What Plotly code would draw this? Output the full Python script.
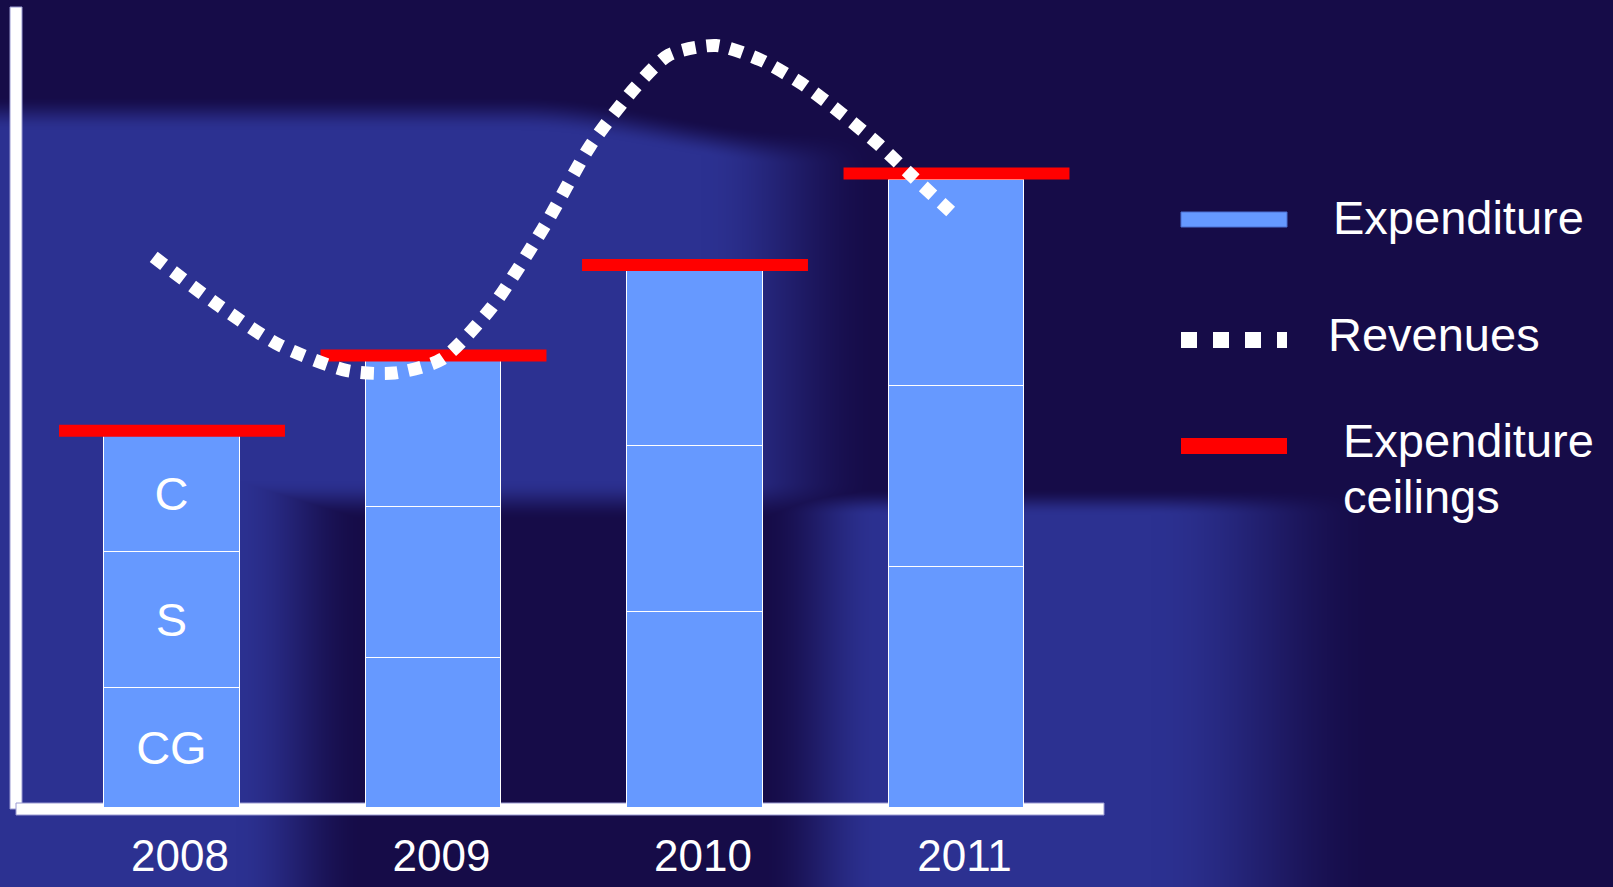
import base64, struct, zlib
import numpy as np
import plotly.graph_objects as go

# ---------------- data ----------------
years = [2008, 2009, 2010, 2011]
year_labels = ["2008", "2009", "2010", "2011"]
cg_values = [15.0, 18.7, 24.5, 30.1]
s_values = [17.0, 18.9, 20.7, 22.6]
c_values = [14.4, 18.2, 21.9, 25.7]
ceilings = [47.1, 56.5, 67.8, 79.2]
revenue_t = [2007.93, 2008.18, 2008.41, 2008.67, 2008.85, 2009.03, 2009.22, 2009.42, 2009.60,
             2009.77, 2009.90, 2010.08, 2010.25, 2010.41, 2010.56, 2010.70, 2010.83, 2010.99]
revenue_v = [68.8, 62.7, 57.8, 54.6, 54.3, 56.0, 62.4, 72.4, 82.7,
             89.9, 94.0, 95.2, 93.4, 90.4, 86.7, 82.9, 78.9, 74.1]
segment_labels = [["CG", "", "", ""], ["S", "", "", ""], ["C", "", "", ""]]

W, H = 1613, 887
FONT = "Liberation Sans, Arial, sans-serif"
BAR_COLOR = "#6699ff"


def px_x(p):
    return p / W


def px_y(p):
    return 1 - p / H


# ---------------- background image ----------------
def sstep(v, a, b):
    t = np.clip((v - a) / (b - a), 0, 1)
    return t * t * (3 - 2 * t)


yy = np.arange(H, dtype=float)[:, None]
xx = np.arange(W, dtype=float)[None, :]
top_edge = 95 + 35 * sstep(xx, 520, 800)
m_up = sstep(yy, top_edge, top_edge + 35) * (1 - sstep(yy, 480, 520)) * (1 - sstep(xx, 700, 880))
m_left = sstep(yy, 95, 130) * (1 - sstep(xx, 235, 365))
m_rl = sstep(yy, 488, 515) * sstep(xx, 760, 880) * (1 - sstep(xx, 1150, 1380))
mask = np.maximum(np.maximum(m_up, m_left), m_rl)
dark = np.array([22, 12, 72], dtype=float)
light = np.array([44, 49, 145], dtype=float)
img = (dark[None, None, :] + mask[:, :, None] * (light - dark)[None, None, :]).astype(np.uint8)


def to_png(arr):
    h, w, _ = arr.shape
    raw = b"".join(b"\x00" + arr[i].tobytes() for i in range(h))

    def chunk(t, d):
        return struct.pack(">I", len(d)) + t + d + struct.pack(">I", zlib.crc32(t + d) & 0xffffffff)

    return (b"\x89PNG\r\n\x1a\n" + chunk(b"IHDR", struct.pack(">IIBBBBB", w, h, 8, 2, 0, 0, 0))
            + chunk(b"IDAT", zlib.compress(raw, 9)) + chunk(b"IEND", b""))


bg_src = "data:image/png;base64," + base64.b64encode(to_png(img)).decode()

# ---------------- figure ----------------
fig = go.Figure()

for name, vals, labels in [("CG", cg_values, segment_labels[0]),
                           ("S", s_values, segment_labels[1]),
                           ("C", c_values, segment_labels[2])]:
    fig.add_trace(go.Bar(
        x=years, y=vals, name=name, width=0.52,
        marker=dict(color=BAR_COLOR, line=dict(color="white", width=1.2)),
        text=labels, textposition="inside", insidetextanchor="middle",
        textfont=dict(color="white", size=47, family=FONT),
        hoverinfo="skip", showlegend=False))

half = 0.432
cx, cy = [], []
for yr, c in zip(years, ceilings):
    cx += [yr - half, yr + half, None]
    cy += [c, c, None]
fig.add_trace(go.Scatter(x=cx, y=cy, mode="lines", line=dict(color="#ff0000", width=12),
                         hoverinfo="skip", showlegend=False))

fig.add_trace(go.Scatter(x=revenue_t, y=revenue_v, mode="lines",
                         line=dict(color="white", width=13, dash="13px,11px", shape="spline", smoothing=0.7),
                         hoverinfo="skip", showlegend=False))

# axis lines
shapes = [
    dict(type="rect", xref="paper", yref="paper", x0=px_x(10), x1=px_x(22), y0=px_y(809), y1=px_y(7),
         fillcolor="white", line=dict(color="#9a9ad2", width=1), layer="below"),
    dict(type="rect", xref="paper", yref="paper", x0=px_x(16), x1=px_x(1104), y0=px_y(815), y1=px_y(803),
         fillcolor="white", line=dict(color="#9a9ad2", width=1), layer="below"),
    # legend glyphs
    dict(type="rect", xref="paper", yref="paper", x0=px_x(1181), x1=px_x(1287), y0=px_y(227), y1=px_y(212),
         fillcolor=BAR_COLOR, line=dict(color="#4a6fd0", width=1), layer="above"),
    dict(type="line", xref="paper", yref="paper", x0=px_x(1181), x1=px_x(1287), y0=px_y(340), y1=px_y(340),
         line=dict(color="white", width=16, dash="16px,16px"), layer="above"),
    dict(type="rect", xref="paper", yref="paper", x0=px_x(1181), x1=px_x(1287), y0=px_y(454), y1=px_y(438),
         fillcolor="#ff0000", line=dict(width=0), layer="above"),
]

annos = []
for text, left, baseline in [("Expenditure", 1331, 234), ("Revenues", 1326, 351),
                             ("Expenditure", 1341, 457), ("ceilings", 1341, 513)]:
    annos.append(dict(text=text, xref="paper", yref="paper", x=px_x(left), y=px_y(baseline - 0.3465 * 47),
                      xanchor="left", yanchor="middle", showarrow=False,
                      font=dict(color="white", size=47, family=FONT)))

r0 = 2008 - (172 - 16) / 261.5
r1 = r0 + (1104 - 16) / 261.5
fig.update_layout(
    width=W, height=H, margin=dict(l=0, r=0, t=0, b=0, pad=0, autoexpand=False),
    paper_bgcolor="#160c48", plot_bgcolor="rgba(0,0,0,0)",
    barmode="stack", bargap=0,
    shapes=shapes, annotations=annos,
    images=[dict(source=bg_src, xref="paper", yref="paper", x=0, y=1, sizex=1, sizey=1,
                 sizing="stretch", xanchor="left", yanchor="top", layer="below")],
    xaxis=dict(range=[r0, r1], domain=[px_x(16), px_x(1104)], showgrid=False, zeroline=False,
               showline=False, tickmode="array", tickvals=years, ticktext=year_labels, ticks="",
               tickfont=dict(color="white", size=44, family=FONT), ticklabelstandoff=18,
               ticklabelshift=8, automargin=False, fixedrange=True),
    yaxis=dict(range=[0, 100], domain=[1 - 808 / H, 1 - 7 / H], visible=False,
               automargin=False, fixedrange=True),
    font=dict(family=FONT),
)

fig.write_html("out.html", config={"displayModeBar": False},
               post_script="document.body.style.margin='0';document.body.style.overflow='hidden';")
